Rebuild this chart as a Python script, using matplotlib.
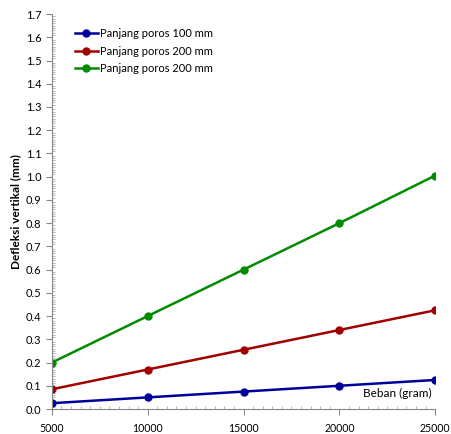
import matplotlib.pyplot as plt
from matplotlib.ticker import MultipleLocator

beban = [5000, 10000, 15000, 20000, 25000]
poros_100 = [0.025, 0.05, 0.075, 0.1, 0.125]
poros_200a = [0.085, 0.17, 0.255, 0.34, 0.425]
poros_200b = [0.2, 0.4, 0.6, 0.8, 1.005]
labels = ['Panjang poros 100 mm', 'Panjang poros 200 mm', 'Panjang poros 200 mm']

plt.rcParams['font.family'] = ['Lato', 'DejaVu Sans']

fig = plt.figure(figsize=(4.51, 4.34), dpi=100)
ax = fig.add_axes([0.115, 0.0576, 0.850, 0.91])

ax.plot(beban, poros_100, color='#00009a', marker='o', markersize=5, linewidth=1.8, label=labels[0])
ax.plot(beban, poros_200a, color='#a00000', marker='o', markersize=5, linewidth=1.8, label=labels[1])
ax.plot(beban, poros_200b, color='#008c00', marker='o', markersize=5, linewidth=1.8, label=labels[2])

ax.set_xlim(5000, 25000)
ax.set_ylim(0, 1.7)
ax.set_xticks(beban)
ax.yaxis.set_major_locator(MultipleLocator(0.1))
ax.yaxis.set_minor_locator(MultipleLocator(0.01))
ax.xaxis.set_minor_locator(MultipleLocator(500))
ax.yaxis.set_major_formatter(plt.FormatStrFormatter('%.1f'))

ax.tick_params(axis='both', which='major', labelsize=8, length=4, color='#888888')
ax.tick_params(axis='x', which='major', labelsize=7.6, pad=6)
ax.tick_params(axis='y', which='minor', length=2, direction='in', color='#aaaaaa')
ax.tick_params(axis='x', which='minor', length=2, direction='in', color='#aaaaaa')

for s in ['top', 'right']:
    ax.spines[s].set_visible(False)
for s in ['left', 'bottom']:
    ax.spines[s].set_color('#888888')

ax.set_ylabel('Defleksi vertikal (mm)', fontsize=8.5, fontweight='bold', labelpad=3)
ax.text(0.99, 0.025, 'Beban (gram)', transform=ax.transAxes, ha='right', va='bottom', fontsize=8.5)

ax.legend(loc='upper left', bbox_to_anchor=(0.035, 0.99), frameon=False, fontsize=8,
          handlelength=2.0, labelspacing=0.6, handletextpad=0.2)

plt.savefig('out.png', dpi=100)
plt.close(fig)
